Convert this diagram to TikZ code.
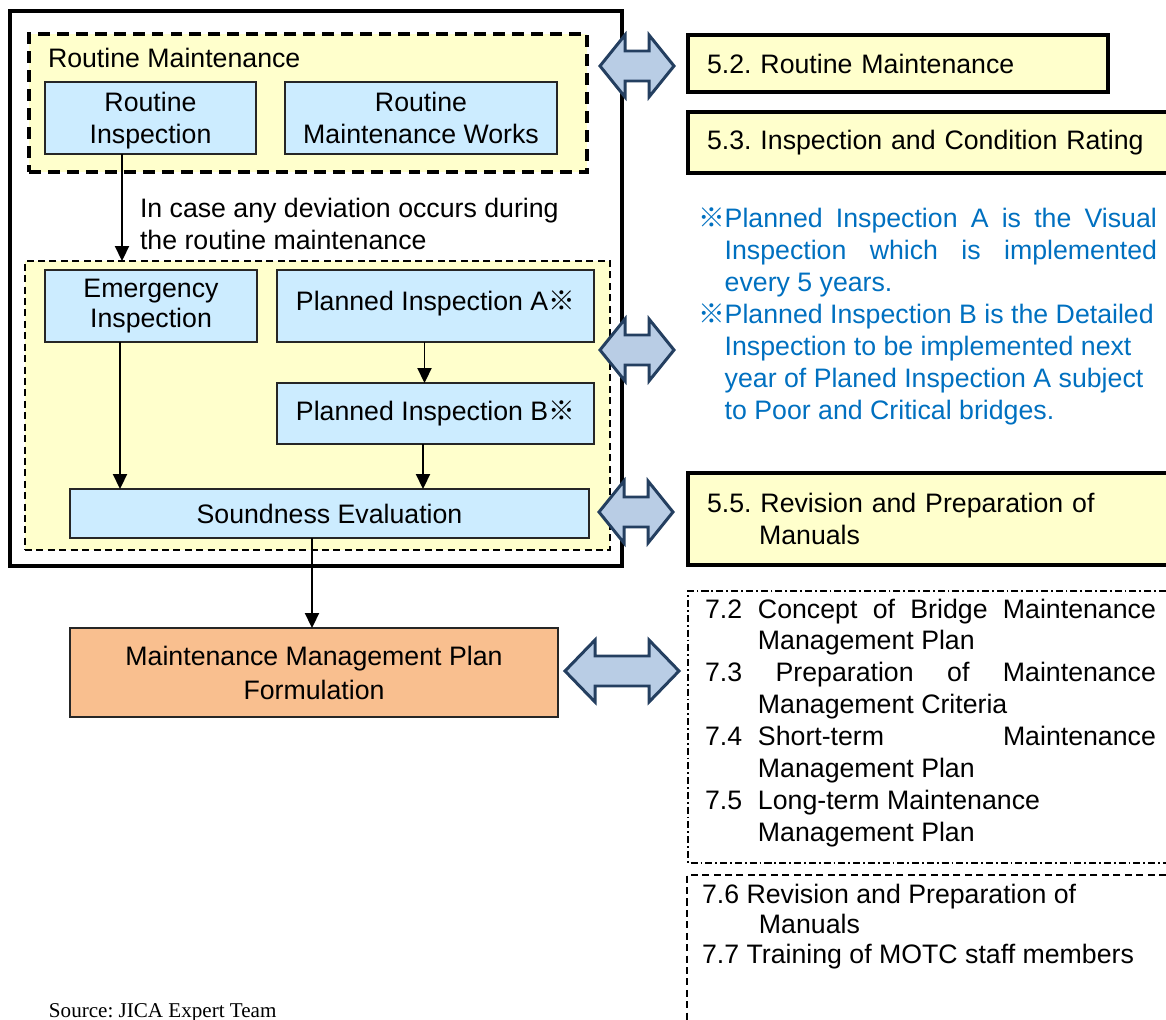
\documentclass[tikz,border=0pt]{standalone}
\usepackage{fontspec}
\setmainfont{Liberation Sans}
\newfontfamily\cjkmarkfont{Noto Sans CJK JP}
\newfontfamily\sourcefont{Liberation Serif}
\usetikzlibrary{arrows.meta}
\frenchspacing

\definecolor{groupyellow}{HTML}{FFFFCC}
\definecolor{taskblue}{HTML}{CCECFF}
\definecolor{planorange}{HTML}{F9BF8F}
\definecolor{linkfill}{HTML}{B9CDE5}
\definecolor{linkedge}{HTML}{243F60}
\definecolor{noteblue}{HTML}{0070C0}

\newcommand\mainsize{\fontsize{15.2}{18.2}\selectfont}
\newcommand\notemark{{\cjkmarkfont ※}}
\newcommand\firstline{\rule{0pt}{14pt}}
% two-headed block arrow: centre x, centre y, half length, head length
\newcommand\twowayarrow[4]{%
  \draw[twoway] ({#1-#3},#2) -- ++(#4,-31) -- ++(0,16) -- ++({2*#3-2*#4},0)
    -- ++(0,-16) -- ++(#4,31) -- ++(-#4,31) -- ++(0,-16) -- ++({2*#4-2*#3},0)
    -- ++(0,16) -- cycle;}

\begin{document}
\begin{tikzpicture}[x=0.02cm, y=-0.02cm,
  every node/.style={inner sep=0pt, outer sep=0pt, font=\mainsize},
  sized/.style 2 args={minimum width=#1*0.02cm, minimum height=#2*0.02cm},
  outerframe/.style={draw, line width=1.8pt},
  routinegroup/.style={draw, fill=groupyellow, line width=2pt, dash pattern=on 6.8pt off 4pt},
  inspgroup/.style={draw, fill=groupyellow, line width=0.8pt, dash pattern=on 4pt off 2.5pt},
  taskbox/.style={draw=black!85, fill=taskblue, line width=1pt, align=center},
  planbox/.style={draw=black!85, fill=planorange, line width=1pt, align=center},
  refbox/.style={draw, fill=groupyellow, line width=1.8pt, anchor=west, align=left, inner xsep=0.38cm},
  openrefbox/.style={fill=groupyellow, anchor=west, align=left, inner xsep=0.38cm},
  refedge/.style={line width=1.8pt, line join=miter},
  flow/.style={-{Triangle[length=8.5pt,width=8pt]}, line width=1pt},
  twoway/.style={fill=linkfill, draw=linkedge, line width=1.7pt, line join=miter},
  chapterframe/.style={anchor=north west},
]
\useasboundingbox (0,0) rectangle (1166,1020);

% ---- maintenance flow ----
\node[outerframe, sized={612}{555}] (frame) at (316,288.5) {};
\node[routinegroup, sized={558}{138}] (rm) at (308,103) {};
\node[anchor=base west] (rmlabel) at (48,68) {Routine Maintenance};
\node[taskbox, sized={211}{72}] (ri) at (150.5,118) {\rule{0pt}{14.2pt}Routine\\Inspection};
\node[taskbox, sized={272}{72}] (rw) at (421,118) {Routine\\Maintenance Works};
\node[anchor=north west, align=left] (deviation) at (140,193)
  {\firstline In case any deviation occurs during\\the routine maintenance};

\node[inspgroup, sized={585}{289}] (insp) at (317.5,405.5) {};
\node[taskbox, sized={212}{72}, font=\fontsize{15.2}{17.1}\selectfont] (em) at (151,306) {Emergency\\Inspection};
\node[taskbox, sized={317}{72}] (pa) at (435.5,306) {Planned Inspection A\notemark\rule[-6.6pt]{0pt}{6.6pt}};
\node[taskbox, sized={317}{61}] (pb) at (435.5,413.5) {Planned Inspection B\notemark};
\node[taskbox, sized={519}{49}] (se) at (329.5,513.5) {Soundness Evaluation};
\node[planbox, sized={488}{89}, font=\fontsize{15.2}{19.4}\selectfont] (mmp) at (314,672.5)
  {Maintenance Management Plan\\Formulation};

\draw[flow] ([xshift=-0.57cm]ri.south) -- ([xshift=-0.57cm]ri.south |- insp.north);
\draw[flow] ([xshift=-0.62cm]em.south) -- ([xshift=-0.62cm]em.south |- se.north);
\draw[flow] ([xshift=-0.22cm]pa.south) -- ([xshift=-0.22cm]pa.south |- pb.north);
\draw[flow] ([xshift=-0.25cm]pb.south) -- ([xshift=-0.25cm]pb.south |- se.north);
\draw[flow] ([xshift=-0.35cm]se.south) -- ([xshift=-0.35cm]se.south |- mmp.north);

% ---- manual chapters (the wide ones run on to the right edge) ----
\node[refbox, sized={420}{57}, text width=7.64cm] (s52) at (688,63.5) {5.2. Routine Maintenance};
\node[openrefbox, sized={478}{61}, text width=8.8cm] (s53) at (688,142.5) {5.3. Inspection and Condition Rating};
\draw[refedge] (s53.north east) -- (s53.north west) -- (s53.south west) -- (s53.south east);
\node[openrefbox, sized={478}{92}, text width=8.8cm] (s55) at (688,519)
  {5.5. Revision and Preparation of\\\hspace*{29.6pt}Manuals};
\draw[refedge] (s55.north east) -- (s55.north west) -- (s55.south west) -- (s55.south east);

\node[anchor=north west, align=left, text=noteblue] (notes) at (698,203.4) {%
  \firstline\makebox[9.18cm][s]{\notemark Planned Inspection A is the Visual}\\
  \hspace*{15.2pt}\makebox[8.65cm][s]{Inspection which is implemented}\\
  \hspace*{15.2pt}every 5 years.\\
  \notemark Planned Inspection B is the Detailed\\
  \hspace*{15.2pt}Inspection to be implemented next\\
  \hspace*{15.2pt}year of Planed Inspection A subject\\
  \hspace*{15.2pt}to Poor and Critical bridges.};

\node[chapterframe, sized={478}{272}] (ch7a) at (688,591) {};
\draw[line width=0.8pt, dash pattern=on 4pt off 1.7pt on 1pt off 1.7pt]
  (ch7a.north east) -- (ch7a.north west) -- (ch7a.south west) -- (ch7a.south east);
\node[anchor=north west, align=left] (ch7atext) at (705,593.4) {%
  \firstline\makebox[1.06cm][l]{7.2}\makebox[7.96cm][s]{Concept of Bridge Maintenance}\\
  \hspace*{1.06cm}Management Plan\\
  \makebox[9.02cm][s]{7.3 Preparation of Maintenance}\\
  \hspace*{1.06cm}Management Criteria\\
  \makebox[1.06cm][l]{7.4}\makebox[7.96cm][s]{Short-term Maintenance}\\
  \hspace*{1.06cm}Management Plan\\
  \makebox[1.06cm][l]{7.5}Long-term Maintenance\\
  \hspace*{1.06cm}Management Plan};

\node[chapterframe, sized={479}{145}] (ch7b) at (687,875) {};
\draw[line width=0.8pt, dash pattern=on 4pt off 2.5pt]
  (ch7b.north east) -- (ch7b.north west) -- (ch7b.south west);
\node[anchor=north west, align=left, font=\fontsize{15.2}{17.1}\selectfont] (ch7btext) at (702,878.4) {%
  \firstline 7.6 Revision and Preparation of\\
  \hspace*{1.14cm}Manuals\\
  7.7 Training of MOTC staff members};

% ---- links between flow and chapters ----
\twowayarrow{637}{66}{37}{25}
\twowayarrow{637}{350}{37}{25}
\twowayarrow{636}{512}{37}{25}
\twowayarrow{622}{671}{57}{30}

\node[anchor=base west, font=\sourcefont\fontsize{12}{14}\selectfont] (source) at (49,1017) {Source: JICA Expert Team};
\end{tikzpicture}
\end{document}
